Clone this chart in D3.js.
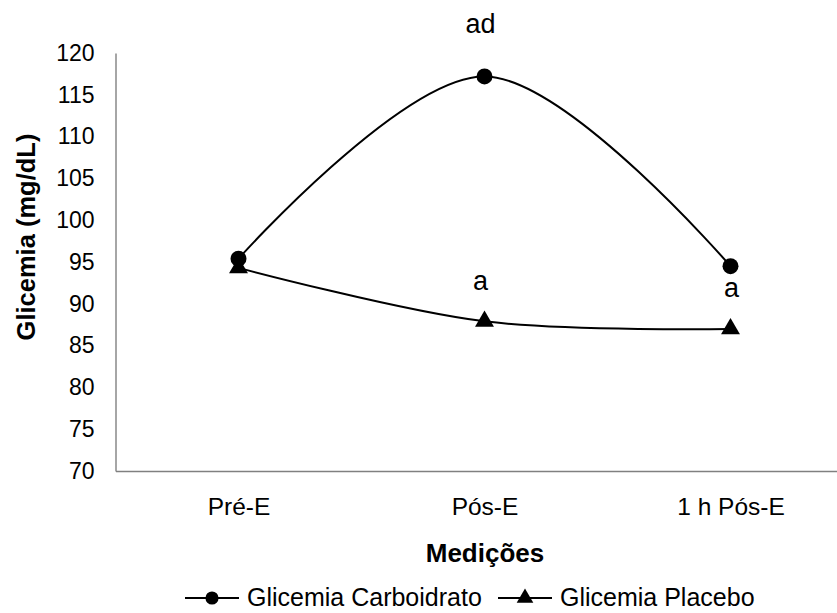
<!DOCTYPE html>
<html>
<head>
<meta charset="utf-8">
<script src="https://cdn.jsdelivr.net/npm/d3@7"></script>
<style>
  body { margin: 0; background: #fff; }
  svg { font-family: "Liberation Sans", Arial, sans-serif; }
</style>
</head>
<body>
<svg width="837" height="613"></svg>
<script>
"use strict";

var categories = ["Pré-E", "Pós-E", "1 h Pós-E"];
var carboidrato = [95.4, 117.2, 94.5];
var placebo = [94.3, 87.9, 87.0];
var yTicks = [70, 75, 80, 85, 90, 95, 100, 105, 110, 115, 120];
// significance letters: category, value they sit over, text
var notes = [
  { cat: "Pós-E", v: 117.2, text: "ad", dx: -4, dy: -43 },
  { cat: "Pós-E", v: 87.9, text: "a", dx: -4, dy: -31 },
  { cat: "1 h Pós-E", v: 87.0, text: "a", dx: 1, dy: -32 }
];

var svg = d3.select("svg");
var plotLeft = 115.5, plotBottom = 471, plotTop = 53;

var x = d3.scalePoint()
    .domain(categories)
    .range([plotLeft, plotLeft + 246 * 3])
    .padding(0.5);
var y = d3.scaleLinear().domain([70, 120]).range([plotBottom, plotTop]);

// axes
var yAxis = svg.append("g")
    .attr("transform", "translate(" + plotLeft + ",0)")
    .call(d3.axisLeft(y).tickValues(yTicks).tickSize(0).tickPadding(21));
yAxis.select(".domain").attr("stroke", "#808080").attr("stroke-width", 1.4);
yAxis.selectAll("text").attr("font-size", 23).attr("fill", "#000")
    .attr("font-family", "Liberation Sans, Arial, sans-serif");

var xAxis = svg.append("g")
    .attr("transform", "translate(0," + plotBottom + ")")
    .call(d3.axisBottom(x).tickSize(0).tickPadding(27));
xAxis.select(".domain").attr("stroke", "#808080").attr("stroke-width", 1.4);
xAxis.selectAll("text").attr("font-size", 24.5).attr("fill", "#000")
    .attr("font-family", "Liberation Sans, Arial, sans-serif");

// axis titles
svg.append("text")
    .attr("x", 485).attr("y", 562)
    .attr("text-anchor", "middle")
    .attr("font-size", 26).attr("font-weight", "bold")
    .text("Medições");
svg.append("text")
    .attr("transform", "translate(35,237) rotate(-90)")
    .attr("text-anchor", "middle")
    .attr("font-size", 25.5).attr("font-weight", "bold")
    .text("Glicemia (mg/dL)");

var line = d3.line()
    .x(function(d, i) { return x(categories[i]); })
    .y(function(d) { return y(d); })
    .curve(d3.curveCatmullRom.alpha(0.5));

var series = [
  { name: "Glicemia Carboidrato", values: carboidrato, symbol: d3.symbolCircle, size: 200, legendSize: 135 },
  { name: "Glicemia Placebo", values: placebo, symbol: d3.symbolTriangle, size: 155, legendSize: 120 }
];

series.forEach(function(s) {
  svg.append("path")
      .datum(s.values)
      .attr("fill", "none")
      .attr("stroke", "#000")
      .attr("stroke-width", 2)
      .attr("d", line);
  svg.append("g").selectAll("path")
      .data(s.values)
      .enter().append("path")
      .attr("transform", function(d, i) {
        return "translate(" + x(categories[i]) + "," + y(d) + ")";
      })
      .attr("d", d3.symbol().type(s.symbol).size(s.size))
      .attr("fill", "#000");
});

svg.append("g").selectAll("text")
    .data(notes)
    .enter().append("text")
    .attr("x", function(d) { return x(d.cat) + d.dx; })
    .attr("y", function(d) { return y(d.v) + d.dy; })
    .attr("text-anchor", "middle")
    .attr("font-size", 27)
    .text(function(d) { return d.text; });

// legend
var legendX = [185, 498];
var legend = svg.append("g").attr("transform", "translate(0,598)");
series.forEach(function(s, i) {
  var g = legend.append("g").attr("transform", "translate(" + legendX[i] + ",0)");
  g.append("line").attr("x1", 0).attr("x2", 54).attr("y1", 0).attr("y2", 0)
      .attr("stroke", "#000").attr("stroke-width", 2);
  g.append("path").attr("transform", "translate(27,0)")
      .attr("d", d3.symbol().type(s.symbol).size(s.legendSize))
      .attr("fill", "#000");
  g.append("text").attr("x", 62).attr("y", 8)
      .attr("font-size", 25)
      .text(s.name);
});
</script>
</body>
</html>
